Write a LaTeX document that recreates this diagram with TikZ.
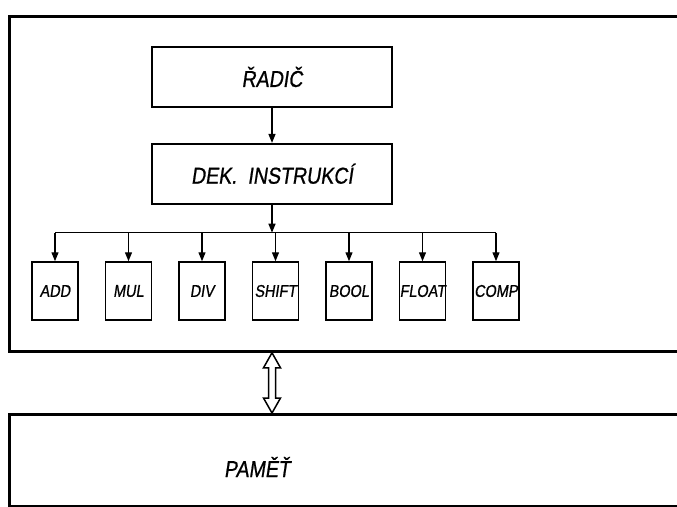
\documentclass[tikz,border=0pt]{standalone}
\usepackage{fontspec}
\setmainfont{Liberation Sans}
\newfontfamily\handfont[FakeStretch=0.85, FakeBold=0.8, FakeSlant=0.15]{Liberation Sans}
\usetikzlibrary{arrows.meta, positioning, calc}

\begin{document}
\begin{tikzpicture}[
    x=1pt, y=-1pt,
    block/.style={draw, line width=1.8pt, minimum width=240pt, minimum height=60pt, font=\handfont\fontsize{23}{27}\selectfont},
    unit/.style={draw, line width=1.5pt, minimum width=46pt, minimum height=58pt, inner sep=0pt, font=\handfont\fontsize{17}{20}\selectfont},
    frame/.style={draw, line width=2.8pt, minimum width=720pt, anchor=north west, inner sep=0pt},
    arr/.style={line width=1.3pt, -{Triangle[length=9pt, width=7pt]}},
    link/.style={line width=1.5pt},
    dblarrow/.style={draw, line width=1.5pt, fill=white, line join=miter}
  ]
  \path[use as bounding box, clip] (0,0) rectangle (677,506);
  \node[frame, minimum height=335pt] (cpu) at (8,15) {};
  \node[frame, minimum height=92pt] (mem) at (8,413) {};
  \node[block] (radic) at (272,77) {ŘADIČ};
  \node[block, below=35pt of radic] (dek) {DEK.\ \ INSTRUKCÍ};
  \node[unit] (add) at (55,291) {ADD};
  \node[unit, right=26pt of add] (mul) {MUL};
  \node[unit, right=26pt of mul] (div) {DIV};
  \node[unit, right=26pt of div] (shift) {SHIFT};
  \node[unit, right=26pt of shift] (bool) {BOOL};
  \node[unit, right=26pt of bool] (float) {FLOAT};
  \node[unit, right=26pt of float] (comp) {COMP};
  \node[font=\handfont\fontsize{23}{27}\selectfont] (memtxt) at (257,467) {PAMĚŤ};
  \coordinate (split) at ($(dek.south)+(0,28)$);
  \draw[arr] (radic) -- (dek);
  \draw[arr] (dek.south) -- (split);
  \draw[link] (split -| add) -- (split -| comp);
  \foreach \u in {add,mul,div,shift,bool,float,comp}
    \draw[arr] (split -| \u) -- (\u.north);
  \coordinate (top) at (cpu.south -| dek);
  \coordinate (bot) at (mem.north -| dek);
  \path[dblarrow] (top) -- ($(top)+(8.5,15)$) -- ($(top)+(3.5,15)$) -- ($(bot)+(3.5,-15)$)
    -- ($(bot)+(8.5,-15)$) -- (bot) -- ($(bot)+(-8.5,-15)$) -- ($(bot)+(-3.5,-15)$)
    -- ($(top)+(-3.5,15)$) -- ($(top)+(-8.5,15)$) -- cycle;
\end{tikzpicture}
\end{document}
